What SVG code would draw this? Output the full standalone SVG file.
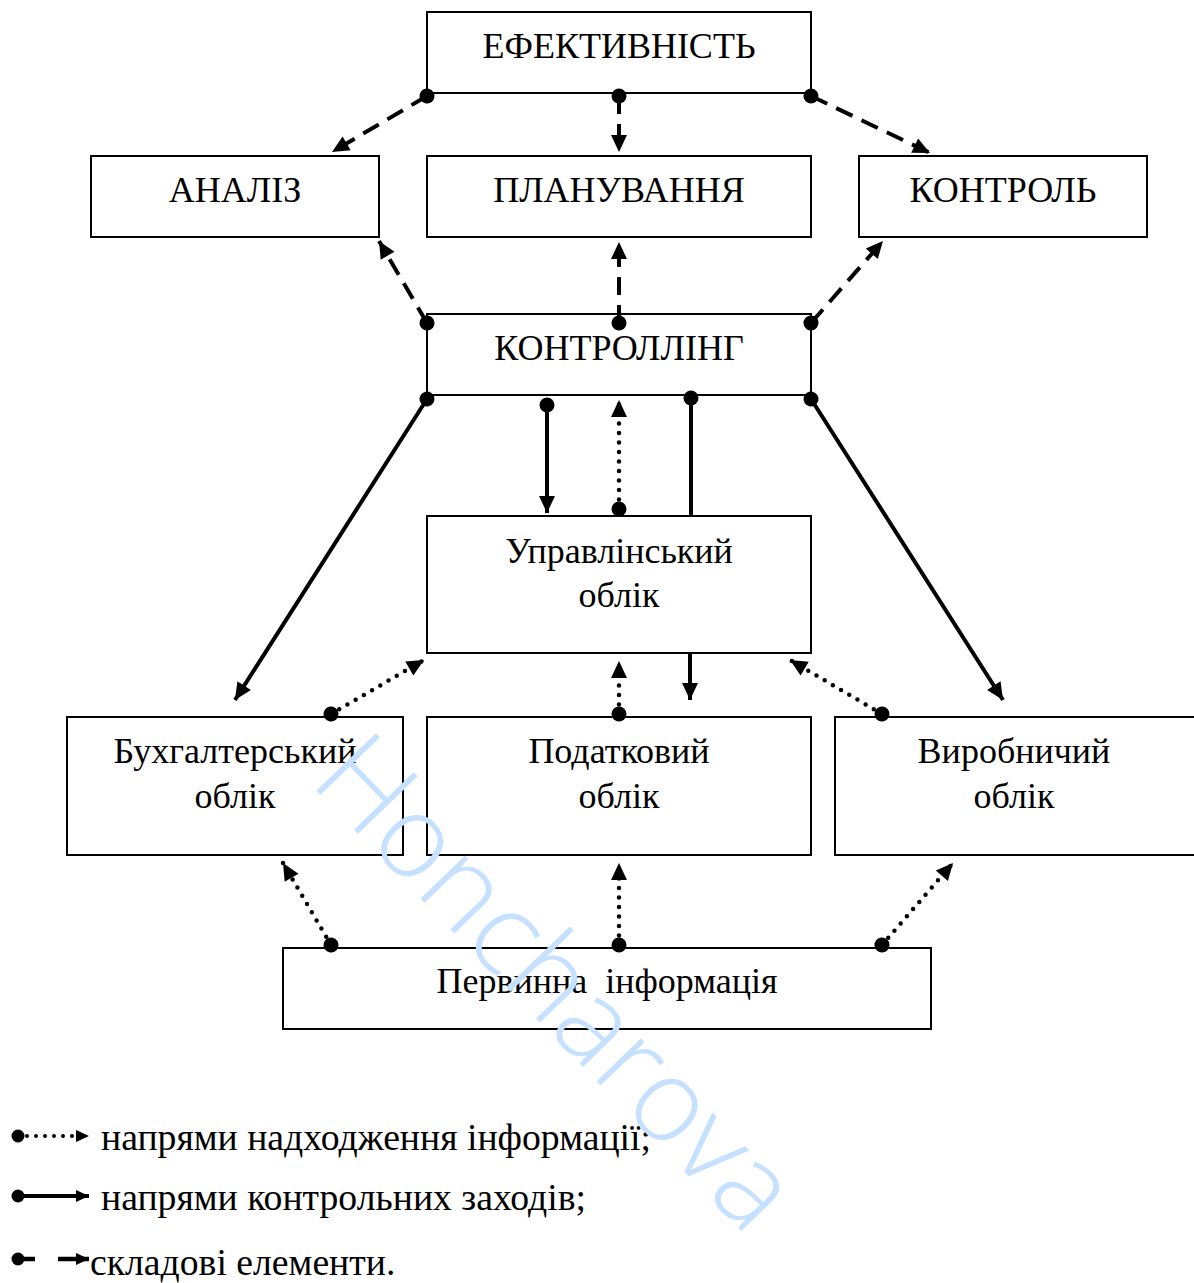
<svg xmlns="http://www.w3.org/2000/svg" width="1194" height="1283" viewBox="0 0 1194 1283">
<style>
.box{fill:#fff;stroke:#000;stroke-width:2}
.t{font-family:"Liberation Serif","Times New Roman",serif;font-size:36px;fill:#000;text-anchor:middle}
.lt{font-family:"Liberation Serif","Times New Roman",serif;font-size:37.7px;fill:#000}
.dash{fill:none;stroke:#000;stroke-width:4;stroke-dasharray:18 10;marker-start:url(#dot);marker-end:url(#arr)}
.solid{fill:none;stroke:#000;stroke-width:4;marker-start:url(#dot);marker-end:url(#arr)}
.dots{fill:none;stroke:#000;stroke-width:4.5;stroke-linecap:round;stroke-dasharray:0 9.5;marker-start:url(#dot);marker-end:url(#arr)}
.wm{font-family:"Open Sans","Liberation Sans",sans-serif;font-weight:300;font-size:116px;fill:#c6e0ff}
</style>
<defs>
<marker id="arr" markerUnits="userSpaceOnUse" markerWidth="18" markerHeight="16" refX="17" refY="8" orient="auto" overflow="visible">
<path d="M0,0 L17,8 L0,16 z" fill="#000"/>
</marker>
<marker id="dot" markerUnits="userSpaceOnUse" markerWidth="16" markerHeight="16" refX="8" refY="8" orient="auto" overflow="visible">
<circle cx="8" cy="8" r="7.5" fill="#000"/>
</marker>
<marker id="sdot" markerUnits="userSpaceOnUse" markerWidth="14" markerHeight="14" refX="7" refY="7" overflow="visible">
<circle cx="7" cy="7" r="6.5" fill="#000"/>
</marker>
<marker id="sarr" markerUnits="userSpaceOnUse" markerWidth="14" markerHeight="12" refX="13" refY="6" orient="auto" overflow="visible">
<path d="M0,0 L13,6 L0,12 z" fill="#000"/>
</marker>
</defs>
<rect width="1194" height="1283" fill="#fff"/>

<g id="nodes">
<g id="efektyvnist"><rect class="box" x="427" y="12" width="384" height="81"/><text class="t" x="619" y="58">ЕФЕКТИВНІСТЬ</text></g>
<g id="analiz"><rect class="box" x="91" y="156" width="288" height="81"/><text class="t" x="235" y="202">АНАЛІЗ</text></g>
<g id="planuvannia"><rect class="box" x="427" y="156" width="384" height="81"/><text class="t" x="619" y="202">ПЛАНУВАННЯ</text></g>
<g id="kontrol"><rect class="box" x="859" y="156" width="288" height="81"/><text class="t" x="1003" y="202">КОНТРОЛЬ</text></g>
<g id="kontrolling"><rect class="box" x="427" y="314" width="384" height="81"/><text class="t" x="619" y="360">КОНТРОЛЛІНГ</text></g>
<g id="upravlinskyi"><rect class="box" x="427" y="516" width="384" height="137"/><text class="t" x="619" y="563">Управлінський</text><text class="t" x="619" y="607">облік</text></g>
<g id="bukhgalterskyi"><rect class="box" x="67" y="717" width="336" height="138"/><text class="t" x="235" y="763">Бухгалтерський</text><text class="t" x="235" y="808">облік</text></g>
<g id="podatkovyi"><rect class="box" x="427" y="717" width="384" height="138"/><text class="t" x="619" y="763">Податковий</text><text class="t" x="619" y="808">облік</text></g>
<g id="vyrobnychyi"><rect class="box" x="835" y="717" width="362" height="138"/><text class="t" x="1014" y="763">Виробничий</text><text class="t" x="1014" y="808">облік</text></g>
<g id="pervynna"><rect class="box" x="283" y="948" width="648" height="81"/><text class="t" x="607" y="993" xml:space="preserve">Первинна  інформація</text></g>
</g>

<g id="connectors">
<path class="dash" d="M427,96 L332,152"/>
<path class="dash" d="M619,96 L619,152"/>
<path class="dash" d="M811,96 L930,153"/>
<path class="dash" d="M427,323 L379,241"/>
<path class="dash" d="M619,323 L619,242"/>
<path class="dash" d="M811,323 L883,241"/>
<path class="solid" d="M427,399 L235,700"/>
<path class="solid" d="M547,405 L547,513"/>
<path class="dots" d="M619,509 L619,400"/>
<path class="solid" d="M691,398 L691,516" style="marker-end:none"/>
<path class="solid" d="M690,653 L690,700" style="marker-start:none"/>
<path class="solid" d="M811,399 L1003,700"/>
<path class="dots" d="M331,714 L424,660"/>
<path class="dots" d="M619,714 L619,661"/>
<path class="dots" d="M882,714 L790,660"/>
<path class="dots" d="M331,945 L283,863"/>
<path class="dots" d="M619,945 L619,863"/>
<path class="dots" d="M882,945 L953,863"/>
</g>

<g id="legend">
<path d="M18,1136 L89,1136" fill="none" stroke="#000" stroke-width="4" stroke-linecap="round" stroke-dasharray="0 9" marker-start="url(#sdot)" marker-end="url(#sarr)"/>
<text class="lt" x="101" y="1150">напрями надходження інформації;</text>
<path d="M18,1196 L89,1196" fill="none" stroke="#000" stroke-width="4" marker-start="url(#sdot)" marker-end="url(#sarr)"/>
<text class="lt" x="101" y="1210">напрями контрольних заходів;</text>
<path d="M18,1259 L35,1259" fill="none" stroke="#000" stroke-width="4.5" marker-start="url(#sdot)"/>
<path d="M58,1259 L89,1259" fill="none" stroke="#000" stroke-width="4.5" marker-end="url(#sarr)"/>
<text class="lt" x="90" y="1275">складові елементи.</text>
</g>

<text class="wm" x="528" y="1010" text-anchor="middle" transform="rotate(46 528 1010)">Honcharova</text>
</svg>
